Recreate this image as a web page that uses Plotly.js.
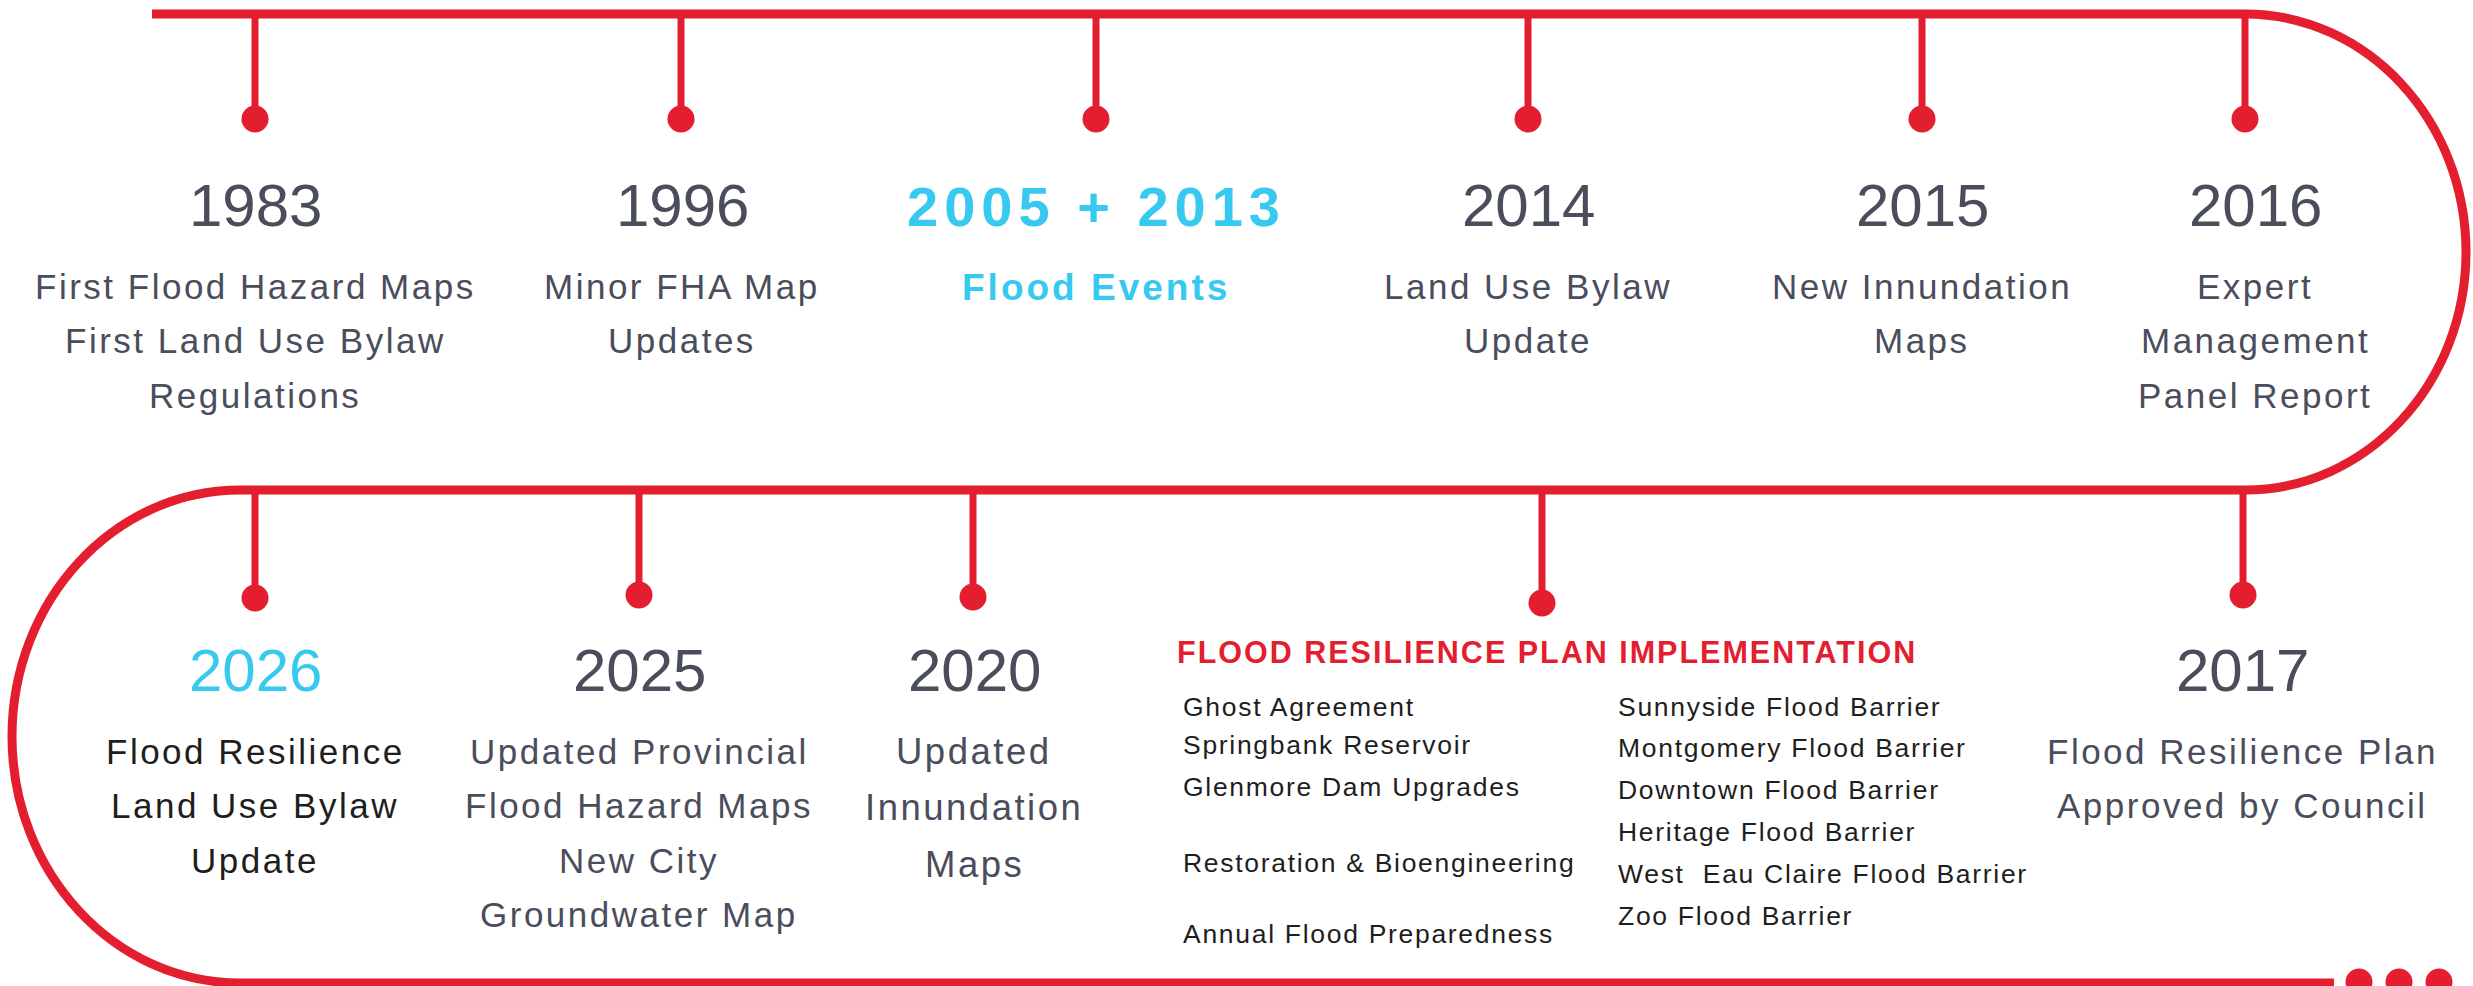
<!DOCTYPE html>
<html>
<head>
<meta charset="utf-8">
<script src="https://cdn.plot.ly/plotly-3.0.1.min.js"></script>
<style>
  html, body { margin: 0; padding: 0; background: #fff; }
  #chart { width: 2473px; height: 986px; }
</style>
</head>
<body>
<div id="chart"></div>
<script>
// Timeline content
const topYears = ['1983', '1996', '2005 + 2013', '2014', '2015', '2016'];
const topNotes = [
    ['First Flood Hazard Maps', 'First Land Use Bylaw', 'Regulations'],
    ['Minor FHA Map', 'Updates'],
    ['Flood Events'],
    ['Land Use Bylaw', 'Update'],
    ['New Innundation', 'Maps'],
    ['Expert', 'Management', 'Panel Report']
];
const bottomYears = ['2026', '2025', '2020', '2017'];
const bottomNotes = [
    ['Flood Resilience', 'Land Use Bylaw', 'Update'],
    ['Updated Provincial', 'Flood Hazard Maps', 'New City', 'Groundwater Map'],
    ['Updated', 'Innundation', 'Maps'],
    ['Flood Resilience Plan', 'Approved by Council']
];
const planTitle = 'FLOOD RESILIENCE PLAN IMPLEMENTATION';
const planLeft = ['Ghost Agreement', 'Springbank Reservoir', 'Glenmore Dam Upgrades',
    'Restoration &amp; Bioengineering', 'Annual Flood Preparedness'];
const planRight = ['Sunnyside Flood Barrier', 'Montgomery Flood Barrier', 'Downtown Flood Barrier',
    'Heritage Flood Barrier', 'West  Eau Claire Flood Barrier', 'Zoo Flood Barrier'];

// Layout (pixel space of the page)
const W = 2473, H = 986;
const RED = '#e31f2f', CYAN = '#38c9f0', GREY = '#4a4d5b', INK = '#1e1e1e';
const FONT = 'Liberation Sans, Arial, sans-serif';

const topStemX = [255, 681, 1096, 1528, 1922, 2245];
const topTextX = [255, 682, 1096, 1528, 1922, 2255];
const topDotY = 119;
const bottomStemX = [255, 639, 973, 1542, 2243];
const bottomDotY = [598, 595, 597, 603, 595];
const bottomTextX = [255, 639, 974, 2242];
const topY = 14, midY = 490, lowY = 983;

const planLeftY = [707, 745, 787, 863, 934];
const planRightY = [707, 748, 790, 832, 874, 916];

function spaced(txt, px) {
    return '<span style="letter-spacing:' + px + 'px">' + txt + '</span>';
}

function label(x, y, txt, size, color, opts) {
    opts = opts || {};
    return {
        x: x, y: y, xref: 'x', yref: 'y',
        text: opts.spacing ? spaced(txt, opts.spacing) : txt,
        showarrow: false,
        xanchor: opts.anchor || 'center', yanchor: 'middle',
        font: { family: FONT, size: size, color: color, weight: opts.bold ? 700 : 400 }
    };
}

// Track: top line, right bend, middle line, left bend, bottom line
function trackPath() {
    const k = 0.5523;
    const rcx = 2245, rcy = (topY + midY) / 2, rrx = 221, rry = (midY - topY) / 2;
    const lcx = 240, lcy = (midY + lowY) / 2, lrx = 228, lry = (lowY - midY) / 2;
    return 'M152,' + topY + ' L' + rcx + ',' + topY +
        ' C' + (rcx + k * rrx) + ',' + topY + ' ' + (rcx + rrx) + ',' + (rcy - k * rry) + ' ' + (rcx + rrx) + ',' + rcy +
        ' C' + (rcx + rrx) + ',' + (rcy + k * rry) + ' ' + (rcx + k * rrx) + ',' + midY + ' ' + rcx + ',' + midY +
        ' L' + lcx + ',' + midY +
        ' C' + (lcx - k * lrx) + ',' + midY + ' ' + (lcx - lrx) + ',' + (lcy - k * lry) + ' ' + (lcx - lrx) + ',' + lcy +
        ' C' + (lcx - lrx) + ',' + (lcy + k * lry) + ' ' + (lcx - k * lrx) + ',' + lowY + ' ' + lcx + ',' + lowY +
        ' L2334,' + lowY;
}

const shapes = [{
    type: 'path', xref: 'x', yref: 'y', path: trackPath(),
    line: { color: RED, width: 9 }
}];
topStemX.forEach(x => shapes.push({
    type: 'line', xref: 'x', yref: 'y', x0: x, x1: x, y0: topY, y1: topDotY,
    line: { color: RED, width: 7 }
}));
bottomStemX.forEach((x, i) => shapes.push({
    type: 'line', xref: 'x', yref: 'y', x0: x, x1: x, y0: midY, y1: bottomDotY[i],
    line: { color: RED, width: 7 }
}));

const traces = [{
    x: topStemX.concat(bottomStemX),
    y: topStemX.map(() => topDotY).concat(bottomDotY),
    type: 'scatter', mode: 'markers',
    marker: { size: 27, color: RED, line: { width: 0 } },
    hoverinfo: 'skip'
}, {
    // trailing "more to come" dots
    x: [2359, 2399, 2439], y: [982, 982, 982],
    type: 'scatter', mode: 'markers',
    marker: { size: 27, color: RED, line: { width: 0 } },
    hoverinfo: 'skip', cliponaxis: true
}];

const annotations = [];

// top row
topYears.forEach((yr, i) => {
    const hot = yr.indexOf('+') > 0;
    annotations.push(hot
        ? label(topTextX[i], 206, yr, 56, CYAN, { bold: true, spacing: 6 })
        : label(topTextX[i], 205, yr, 60, GREY));
    topNotes[i].forEach((ln, j) => {
        annotations.push(hot
            ? label(topTextX[i], 287, ln, 37, CYAN, { bold: true, spacing: 3 })
            : label(topTextX[i], 286 + j * 54.5, ln, 35, GREY, { spacing: 2.5 }));
    });
});

// bottom row
bottomYears.forEach((yr, i) => {
    const now = yr === '2026';
    annotations.push(label(bottomTextX[i], 670, yr, 60, now ? CYAN : GREY));
    const step = yr === '2020' ? 56.5 : 54.5;
    const size = yr === '2020' ? 36.5 : 35;
    bottomNotes[i].forEach((ln, j) => {
        annotations.push(label(bottomTextX[i], 751 + j * step, ln, size, now ? INK : GREY, { spacing: 2.5 }));
    });
});

// plan implementation block
annotations.push(label(1175, 652, planTitle, 30.5, RED, { bold: true, spacing: 2, anchor: 'left' }));
planLeft.forEach((t, i) => annotations.push(label(1181, planLeftY[i], t, 26.5, INK, { spacing: 1.7, anchor: 'left' })));
planRight.forEach((t, i) => annotations.push(label(1616, planRightY[i], t, 26.5, INK, { spacing: 1.7, anchor: 'left' })));

const layout = {
    width: W, height: H,
    margin: { l: 0, r: 0, t: 0, b: 0, pad: 0 },
    paper_bgcolor: '#fff', plot_bgcolor: '#fff',
    showlegend: false, hovermode: false,
    xaxis: { range: [0, W], visible: false, fixedrange: true },
    yaxis: { range: [H, 0], visible: false, fixedrange: true },
    shapes: shapes,
    annotations: annotations
};

Plotly.newPlot('chart', traces, layout, { displayModeBar: false, staticPlot: true });
</script>
</body>
</html>
